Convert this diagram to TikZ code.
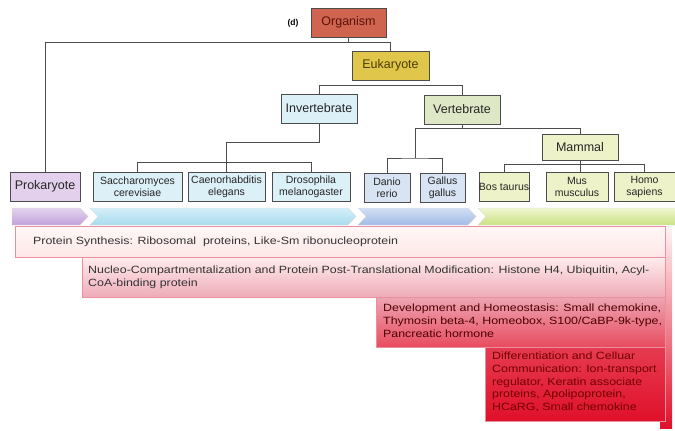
\documentclass[tikz,border=0pt]{standalone}
\usepackage{fontspec}
\setmainfont{Liberation Sans}
\newfontfamily\widefont[FakeStretch=1.18]{Liberation Sans}
\definecolor{orgfill}{HTML}{CF6450}
\definecolor{orgtext}{HTML}{5C1408}
\definecolor{eukfill}{HTML}{E0C64A}
\definecolor{euktext}{HTML}{4D3D00}
\definecolor{invfill}{HTML}{DCF0F8}
\definecolor{verfill}{HTML}{DFE8C6}
\definecolor{mamfill}{HTML}{EEF2C8}
\definecolor{profill}{HTML}{E3D0EC}
\definecolor{fishfill}{HTML}{D8E4F3}
\definecolor{pinkline}{HTML}{E98FA0}
\definecolor{deepred}{HTML}{E0102A}
\definecolor{protop}{HTML}{E4D4EF}
\definecolor{probot}{HTML}{C2A0DA}
\definecolor{invtop}{HTML}{D4EFF8}
\definecolor{invbot}{HTML}{A8DBEE}
\definecolor{vertop}{HTML}{D3E0F5}
\definecolor{verbot}{HTML}{A0BAE6}
\definecolor{mamtop}{HTML}{EEF6CF}
\definecolor{mambot}{HTML}{CBE284}
\tikzset{
  taxon/.style={draw=black!70, line width=0.8pt, minimum height=29pt, inner sep=0pt,
    font=\fontsize{12.5}{14}\selectfont, text=black!85},
  leaf/.style={taxon, font=\fontsize{10.5}{12}\selectfont, align=center},
  link/.style={black!70, line width=1pt},
  band/.style={draw=black!15, line width=0.4pt},
  proteins/.style={draw=pinkline, line width=0.8pt},
  note/.style={anchor=north west, inner sep=0pt, align=left,
    font=\widefont\fontsize{10.5}{12.6}\selectfont}
}
\begin{document}
\begin{tikzpicture}[x=1pt,y=-1pt]
  \useasboundingbox (0,0) rectangle (675,431);
  \node[font=\bfseries\fontsize{8.5}{10}\selectfont] (d) at (293,23) {(d)};
  \node[taxon, fill=orgfill, text=orgtext, minimum width=75pt] (org) at (348.5,22.5) {Organism};
  \node[taxon, fill=eukfill, text=euktext, minimum width=77pt] (euk) at (390.5,65.5) {Eukaryote};
  \node[taxon, fill=invfill, minimum width=76pt] (inv) at (319,108.5) {Invertebrate};
  \node[taxon, fill=verfill, minimum width=76pt] (ver) at (462,109.5) {Vertebrate};
  \node[taxon, fill=mamfill, minimum width=76pt, minimum height=26pt] (mam) at (580,147) {Mammal};
  \node[taxon, fill=profill, minimum width=70pt] (pro) at (45,186.5) {Prokaryote};
  \node[leaf, fill=invfill, minimum width=89pt] (sac) at (137.5,186.5) {Saccharomyces\\cerevisiae};
  \node[leaf, fill=invfill, minimum width=77pt] (cel) at (226.5,186.5) {Caenorhabditis\\elegans};
  \node[leaf, fill=invfill, minimum width=78pt] (dro) at (311,186.5) {Drosophila\\melanogaster};
  \node[leaf, fill=fishfill, minimum width=46pt] (dan) at (387,187.5) {Danio\\rerio};
  \node[leaf, fill=fishfill, minimum width=45pt] (gal) at (442.5,187.5) {Gallus\\gallus};
  \node[leaf, fill=mamfill, minimum width=48pt] (bos) at (504,186.5) {Bos taurus};
  \node[leaf, fill=mamfill, minimum width=62pt] (mus) at (577,186.5) {Mus\\musculus};
  \node[leaf, fill=mamfill, minimum width=61pt] (hom) at (644.5,186.5) {Homo\\sapiens};
  \coordinate (worm) at (226.5,142);
  \coordinate (fish) at (415,158);
  \draw[link] (org.south) -- ++(0,5);
  \draw[link] (pro.north) |- ([yshift=-5pt]org.south) -| (euk.north);
  \draw[link] (inv.north) |- ([yshift=-5pt]euk.south) -| (ver.north);
  \draw[link] (inv.south) |- (worm) -- (cel.north);
  \draw[link] (sac.north) -- ++(0,-9) -| (dro.north);
  \draw[link] (mam.north) |- ([yshift=-4pt]ver.south) -| (fish);
  \draw[link] (ver.south) -- ++(0,4);
  \draw[link] (dan.north) |- (fish) -| (gal.north);
  \draw[link] (bos.north) |- ([yshift=-4pt]mam.south) -| (hom.north);
  \draw[link] (mam.south) -- (mam.south |- mus.north);
  \path[band, top color=protop, bottom color=probot] (12,208) -- (80,208) -- (88,216.5) -- (80,225) -- (12,225) -- cycle;
  \path[band, top color=invtop, bottom color=invbot] (90,208) -- (348,208) -- (356,216.5) -- (348,225) -- (90,225) -- (98,216.5) -- cycle;
  \path[band, top color=vertop, bottom color=verbot] (358,208) -- (468,208) -- (476,216.5) -- (468,225) -- (358,225) -- (366,216.5) -- cycle;
  \path[band, top color=mamtop, bottom color=mambot] (478,208) -- (676,208) -- (676,225) -- (478,225) -- (486,216.5) -- cycle;
  \path[top color=pink!15, bottom color=deepred] (660,226) rectangle (672,428);
  \path[proteins, top color=pink!12, bottom color=pink!38] (15,226) rectangle (665,257);
  \path[proteins, top color=pink!28, bottom color=pinkline!75] (82,257) rectangle (665,297);
  \path[proteins, top color=pinkline!80, bottom color=deepred!75] (376,297) rectangle (665,347);
  \path[proteins, top color=deepred!82, bottom color=deepred] (485,347) rectangle (665,421);
  \node[note, text=black!80] (ps) at (33,237) {Protein Synthesis: Ribosomal\ \ proteins, Like-Sm ribonucleoprotein};
  \node[note, text=black!80] (ncp) at (88,266) {Nucleo-Compartmentalization and Protein Post-Translational Modification: Histone H4, Ubiquitin, Acyl-\\CoA-binding protein};
  \node[note, text=red!30!black] (dh) at (383,304) {Development and Homeostasis: Small chemokine,\\Thymosin beta-4, Homeobox, S100/CaBP-9k-type,\\Pancreatic hormone};
  \node[note, text=red!45!black] (dcc) at (492,352) {Differentiation and Celluar\\Communication: Ion-transport\\regulator, Keratin associate\\proteins, Apolipoprotein,\\HCaRG, Small chemokine};
\end{tikzpicture}
\end{document}
